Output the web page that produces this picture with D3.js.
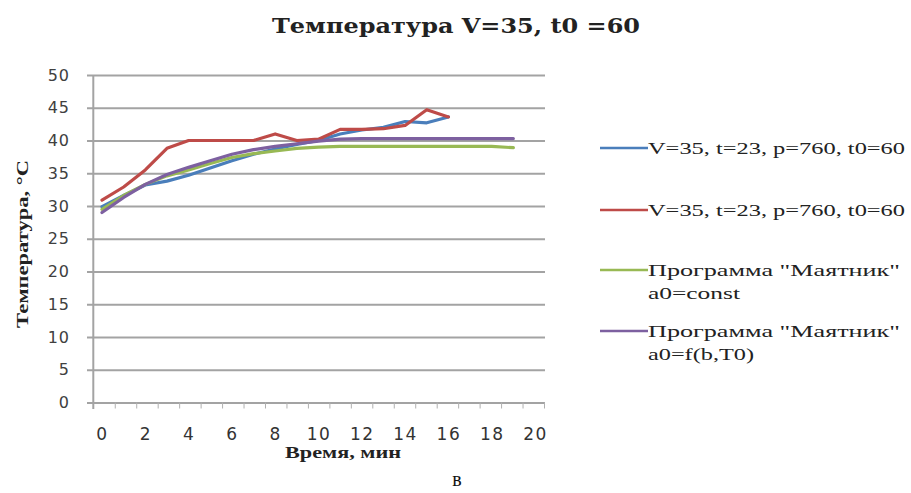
<!DOCTYPE html>
<html><head><meta charset="utf-8">
<script src="https://cdn.jsdelivr.net/npm/d3@7"></script>
<style>body{margin:0;background:#fff}svg{display:block}</style>
</head><body>
<svg id="c" width="911" height="493"></svg>
<script>
const timeA = [0,1,2,3,4,5,6,7,8,9,10,11,12,13,14,15,16];
const timeB = [0,1,2,3,4,5,6,7,8,9,10,11,12,13,14,15,16,17,18,19];
const seriesNames = ["V=35, t=23, p=760, t0=60","V=35, t=23, p=760, t0=60","Программа \"Маятник\"|a0=const","Программа \"Маятник\"|a0=f(b,T0)"];
const blueVals = [29.9,31.6,33.2,33.8,34.7,35.8,36.9,37.9,38.7,39.4,40.0,41.0,41.6,42.0,42.9,42.7,43.6];
const redVals = [30.9,32.9,35.5,38.8,40.0,40.0,40.0,40.0,41.0,40.0,40.2,41.7,41.7,41.8,42.3,44.7,43.6];
const greenVals = [29.5,31.6,33.3,34.6,35.5,36.5,37.4,38.0,38.4,38.8,39.0,39.1,39.1,39.1,39.1,39.1,39.1,39.1,39.1,38.9];
const purpleVals = [29.0,31.3,33.3,34.8,35.9,36.9,37.9,38.6,39.1,39.5,39.9,40.2,40.3,40.3,40.3,40.3,40.3,40.3,40.3,40.3];
const xTickLabels = [0,2,4,6,8,10,12,14,16,18,20];
const yTickLabels = [0,5,10,15,20,25,30,35,40,45,50];
const colors = ["#4a7ebb","#be4b48","#98b954","#7d60a0"];

const svg = d3.select("#c");
const x = d3.scaleLinear().domain([0,20]).range([102,535]);
const xMinor = d3.scaleLinear().domain([0,21]).range([93.3,544]);
const y = d3.scaleLinear().domain([0,50]).range([402.5,75]);

// gridlines
svg.append("g").attr("transform","translate(87,0)")
  .call(d3.axisRight(y).tickValues(yTickLabels).tickSize(458).tickFormat(""))
  .call(g=>{g.select(".domain").remove();g.selectAll("line").attr("stroke","#a3a3a3").attr("stroke-width",2);});

// y axis labels
svg.append("g").attr("transform","translate(70,0)")
  .call(d3.axisLeft(y).tickValues(yTickLabels).tickSize(0).tickPadding(0))
  .call(g=>{g.select(".domain").remove();g.selectAll("text").attr("font-family","DejaVu Sans").attr("font-size",16).attr("fill","#404040").attr("letter-spacing",1);});

// y axis line
svg.append("line").attr("x1",93.3).attr("x2",93.3).attr("y1",y(50)).attr("y2",409).attr("stroke","#a3a3a3").attr("stroke-width",2);

// x minor ticks
svg.append("g").attr("transform","translate(0,"+y(0)+")")
  .call(d3.axisBottom(xMinor).tickValues(d3.range(1,22)).tickSize(6).tickFormat(""))
  .call(g=>{g.select(".domain").remove();g.selectAll("line").attr("stroke","#b0b0b0").attr("stroke-width",1);});

// x labels
svg.append("g").attr("transform","translate(0,428)")
  .call(d3.axisBottom(x).tickValues(xTickLabels).tickSize(0).tickPadding(0))
  .call(g=>{g.select(".domain").remove();g.selectAll("text").attr("font-family","DejaVu Sans").attr("font-size",17).attr("fill","#333").attr("letter-spacing",1.5);});

// lines
const line = d3.line().x(d=>x(d[0])).y(d=>y(d[1]));
const data = [
  d3.zip(timeA, blueVals),
  d3.zip(timeA, redVals),
  d3.zip(timeB, greenVals),
  d3.zip(timeB, purpleVals)
];
data.forEach((d,i)=>{
  svg.append("path").datum(d).attr("d",line).attr("fill","none")
    .attr("stroke",colors[i]).attr("stroke-width",3.2).attr("stroke-linejoin","round").attr("stroke-linecap","round");
});

// title
svg.append("text").attr("x",456).attr("y",33).attr("text-anchor","middle")
  .attr("font-family","DejaVu Serif").attr("font-weight","bold").attr("font-size",21).attr("fill","#222")
  .attr("textLength",368).attr("lengthAdjust","spacingAndGlyphs")
  .text("Температура V=35, t0 =60");

// axis titles
svg.append("text").attr("transform","translate(28,244) rotate(-90)").attr("text-anchor","middle")
  .attr("font-family","Liberation Serif").attr("font-weight","bold").attr("font-size",17).attr("fill","#222")
  .attr("textLength",168).attr("lengthAdjust","spacingAndGlyphs")
  .text("Температура, °C");
svg.append("text").attr("x",343).attr("y",458).attr("text-anchor","middle")
  .attr("font-family","Liberation Serif").attr("font-weight","bold").attr("font-size",17).attr("fill","#222")
  .attr("textLength",116).attr("lengthAdjust","spacingAndGlyphs")
  .text("Время, мин");

svg.append("text").attr("x",457).attr("y",486).attr("text-anchor","middle")
  .attr("font-family","Liberation Serif").attr("font-size",20).attr("fill","#111").text("в");

// legend
const legY = [148,210,270,331];
const legWidths = [[257],[257],[252,92],[252,106]];
seriesNames.forEach((name,i)=>{
  const g = svg.append("g");
  g.append("line").attr("x1",600).attr("x2",648).attr("y1",legY[i]).attr("y2",legY[i])
    .attr("stroke",colors[i]).attr("stroke-width",2.5);
  name.split("|").forEach((t,j)=>{
    g.append("text").attr("x",648).attr("y",legY[i]+6+j*23)
      .attr("font-family","Liberation Serif").attr("font-size",17).attr("fill","#222")
      .attr("textLength",legWidths[i][j]).attr("lengthAdjust","spacingAndGlyphs").text(t);
  });
});
</script>
</body></html>
